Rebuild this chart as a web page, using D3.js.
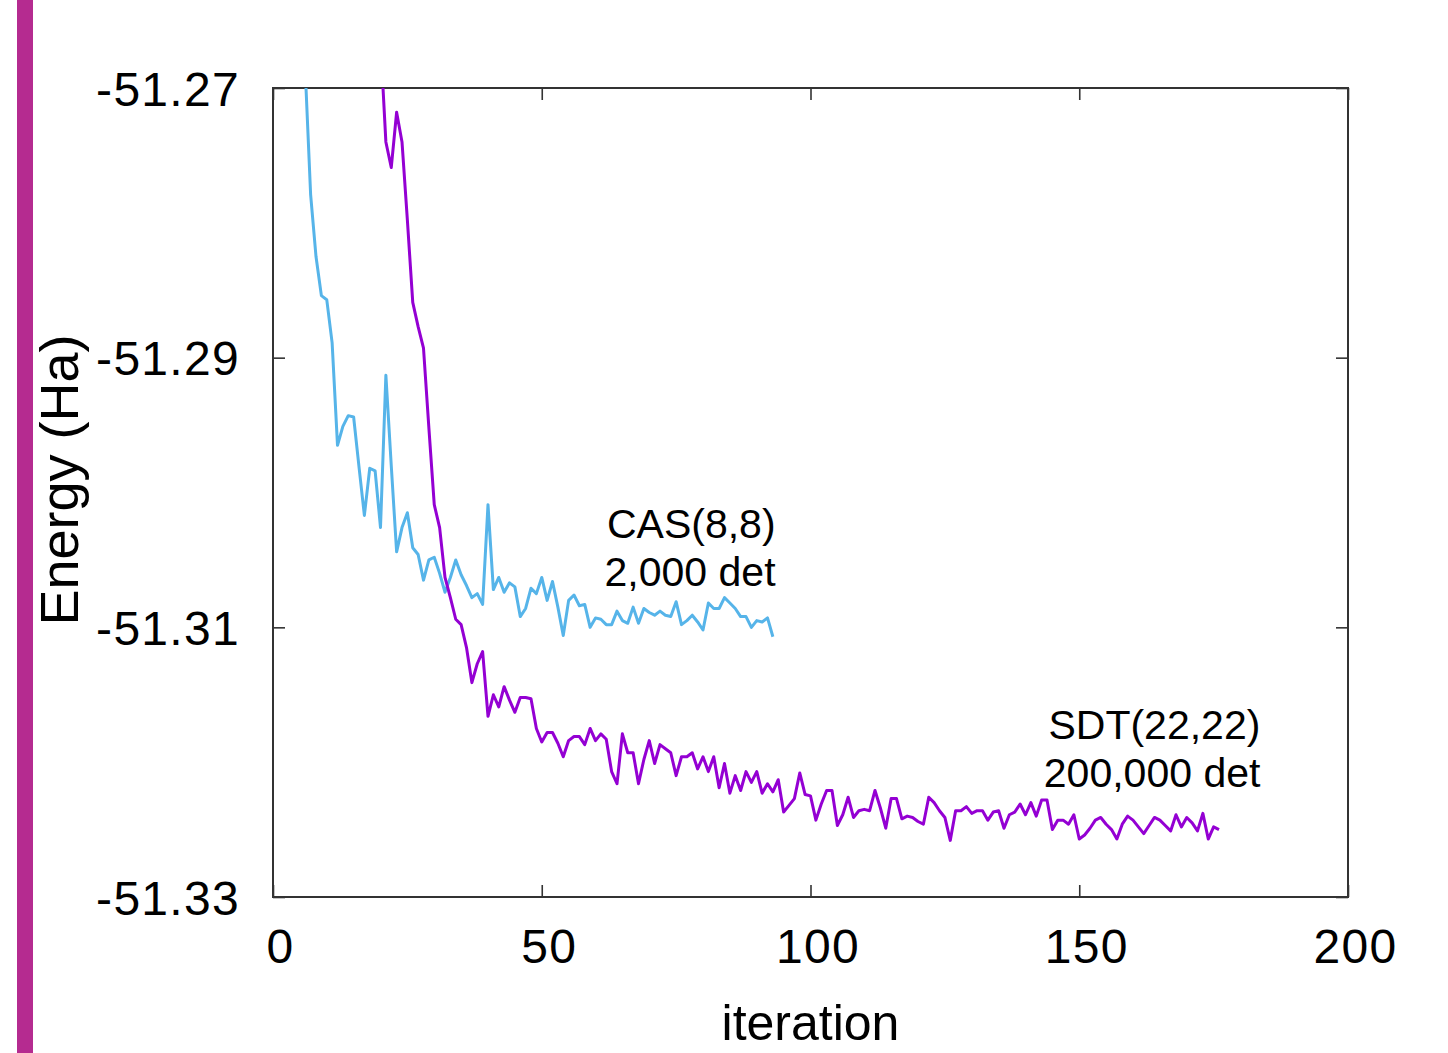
<!DOCTYPE html>
<html>
<head>
<meta charset="utf-8">
<script src="https://cdn.jsdelivr.net/npm/d3@7"></script>
<style>
  html, body { margin: 0; padding: 0; background: #fff; }
  svg { display: block; }
  text { font-family: "Liberation Sans", Arial, Helvetica, sans-serif; fill: #000; }
</style>
</head>
<body>
<svg id="chart" width="1448" height="1053"></svg>
<script>
// Energy convergence of two CI expansions (iteration vs. energy in Hartree)
const xTicks = [0, 50, 100, 150, 200];
const xTickLabels = ["0", "50", "100", "150", "200"];
const yTicks = [-51.27, -51.29, -51.31, -51.33];
const yTickLabels = ["-51.27", "-51.29", "-51.31", "-51.33"];

// CAS(8,8), 2,000 determinants — starts at iteration 5
const casStart = 5;
const casEnergy = [
  -51.2620, -51.2687, -51.2779, -51.2825, -51.2854, -51.2857, -51.2889, -51.2965, -51.2951, -51.2943,
  -51.2944, -51.2981, -51.3017, -51.2982, -51.2984, -51.3026, -51.2913, -51.2980, -51.3044, -51.3026,
  -51.3015, -51.3041, -51.3046, -51.3065, -51.3050, -51.3048, -51.3060, -51.3074, -51.3063, -51.3050,
  -51.3061, -51.3069, -51.3078, -51.3075, -51.3083, -51.3009, -51.3072, -51.3063, -51.3074, -51.3067,
  -51.3070, -51.3092, -51.3086, -51.3071, -51.3075, -51.3063, -51.3080, -51.3066, -51.3085, -51.3106,
  -51.3080, -51.3076, -51.3084, -51.3083, -51.3100, -51.3093, -51.3094, -51.3098, -51.3098, -51.3088,
  -51.3095, -51.3097, -51.3085, -51.3097, -51.3086, -51.3089, -51.3091, -51.3088, -51.3091, -51.3092,
  -51.3081, -51.3098, -51.3095, -51.3091, -51.3096, -51.3102, -51.3082, -51.3086, -51.3086, -51.3078,
  -51.3082, -51.3086, -51.3092, -51.3092, -51.3100, -51.3095, -51.3096, -51.3093, -51.3107
];

// SDT(22,22), 200,000 determinants — starts at iteration 20
const sdtStart = 20;
const sdtEnergy = [
  -51.2665, -51.2740, -51.2759, -51.2718, -51.2740, -51.2798, -51.2859, -51.2877, -51.2893, -51.2952,
  -51.3009, -51.3026, -51.3063, -51.3078, -51.3094, -51.3098, -51.3115, -51.3141, -51.3127, -51.3118,
  -51.3166, -51.3150, -51.3159, -51.3144, -51.3154, -51.3163, -51.3152, -51.3152, -51.3153, -51.3175,
  -51.3185, -51.3178, -51.3178, -51.3186, -51.3196, -51.3184, -51.3181, -51.3181, -51.3187, -51.3175,
  -51.3184, -51.3179, -51.3183, -51.3207, -51.3216, -51.3179, -51.3193, -51.3193, -51.3216, -51.3198,
  -51.3184, -51.3201, -51.3187, -51.3190, -51.3193, -51.3210, -51.3196, -51.3196, -51.3193, -51.3205,
  -51.3196, -51.3207, -51.3196, -51.3219, -51.3201, -51.3223, -51.3210, -51.3221, -51.3207, -51.3215,
  -51.3207, -51.3223, -51.3216, -51.3222, -51.3213, -51.3237, -51.3232, -51.3227, -51.3208, -51.3224,
  -51.3225, -51.3243, -51.3231, -51.3221, -51.3221, -51.3247, -51.3239, -51.3226, -51.3241, -51.3236,
  -51.3235, -51.3236, -51.3221, -51.3234, -51.3249, -51.3227, -51.3227, -51.3242, -51.3240, -51.3241,
  -51.3244, -51.3246, -51.3226, -51.3230, -51.3236, -51.3241, -51.3258, -51.3236, -51.3236, -51.3233,
  -51.3238, -51.3236, -51.3236, -51.3243, -51.3237, -51.3236, -51.3249, -51.3239, -51.3237, -51.3231,
  -51.3239, -51.3230, -51.3240, -51.3228, -51.3228, -51.3250, -51.3243, -51.3243, -51.3246, -51.3239,
  -51.3257, -51.3254, -51.3249, -51.3243, -51.3241, -51.3246, -51.3250, -51.3257, -51.3246, -51.3240,
  -51.3243, -51.3248, -51.3253, -51.3247, -51.3241, -51.3243, -51.3247, -51.3251, -51.3239, -51.3248,
  -51.3241, -51.3245, -51.3251, -51.3238, -51.3257, -51.3248, -51.3250
];

const seriesNames = ["CAS(8,8)", "SDT(22,22)"];
const seriesDets = ["2,000 det", "200,000 det"];
// label anchor (right edge) in data coordinates: [iteration, energy of first line]
const labelAnchors = [[93.5, -51.3034], [183.7, -51.3183]];

const svg = d3.select("#chart");
const margin = { left: 273, top: 88, right: 1448 - 1348, bottom: 1053 - 897 };
const W = 1448, H = 1053;

const x = d3.scaleLinear().domain([0, 200]).range([margin.left, W - margin.right]);
const y = d3.scaleLinear().domain([-51.33, -51.27]).range([H - margin.bottom, margin.top]);

// left accent bar
svg.append("rect").attr("x", 17).attr("y", 0).attr("width", 16).attr("height", H)
  .attr("fill", "#b52b90");

// clip region for the curves
svg.append("defs").append("clipPath").attr("id", "plotClip")
  .append("rect")
  .attr("x", x(0)).attr("y", y(-51.27))
  .attr("width", x(200) - x(0)).attr("height", y(-51.33) - y(-51.27));

const tickLen = 12;
const axisColor = "#333";

function styleAxis(g) {
  g.select(".domain").remove();
  g.selectAll(".tick line").attr("stroke", axisColor).attr("stroke-width", 1.6);
}

// left axis with labels
svg.append("g").attr("transform", `translate(${x(0)},0)`)
  .call(d3.axisLeft(y).tickValues(yTicks).tickSize(-tickLen).tickSizeOuter(0).tickPadding(33)
    .tickFormat((d, i) => yTickLabels[i]))
  .call(styleAxis)
  .call(g => g.selectAll(".tick text")
    .attr("font-size", 48).attr("fill", "#000").attr("letter-spacing", 1.3)
    .attr("font-family", "Liberation Sans, Arial, sans-serif").attr("dy", "0.36em"));

// right axis (ticks only)
svg.append("g").attr("transform", `translate(${x(200)},0)`)
  .call(d3.axisRight(y).tickValues(yTicks).tickSize(-tickLen).tickSizeOuter(0).tickFormat(""))
  .call(styleAxis);

// bottom axis with labels
svg.append("g").attr("transform", `translate(0,${y(-51.33)})`)
  .call(d3.axisBottom(x).tickValues(xTicks).tickSize(-tickLen).tickSizeOuter(0).tickPadding(32)
    .tickFormat((d, i) => xTickLabels[i]))
  .call(styleAxis)
  .call(g => g.selectAll(".tick text")
    .attr("font-size", 48).attr("fill", "#000").attr("letter-spacing", 1.3)
    .attr("font-family", "Liberation Sans, Arial, sans-serif").attr("dx", 7));

// top axis (ticks only)
svg.append("g").attr("transform", `translate(0,${y(-51.27)})`)
  .call(d3.axisTop(x).tickValues(xTicks).tickSize(-tickLen).tickSizeOuter(0).tickFormat(""))
  .call(styleAxis);

// frame
svg.append("rect")
  .attr("x", x(0)).attr("y", y(-51.27))
  .attr("width", x(200) - x(0)).attr("height", y(-51.33) - y(-51.27))
  .attr("fill", "none").attr("stroke", axisColor).attr("stroke-width", 2);

// curves
const line = d3.line().x(d => x(d[0])).y(d => y(d[1]));
const casData = casEnergy.map((e, i) => [casStart + i, e]);
const sdtData = sdtEnergy.map((e, i) => [sdtStart + i, e]);

const curves = svg.append("g").attr("clip-path", "url(#plotClip)");
curves.append("path").datum(casData)
  .attr("d", line).attr("fill", "none").attr("stroke", "#56b4e9")
  .attr("stroke-width", 3).attr("stroke-linejoin", "round");
curves.append("path").datum(sdtData)
  .attr("d", line).attr("fill", "none").attr("stroke", "#9400d3")
  .attr("stroke-width", 3).attr("stroke-linejoin", "round");

// series labels
seriesNames.forEach((name, i) => {
  const [ax, ay] = labelAnchors[i];
  const t = svg.append("text")
    .attr("x", x(ax)).attr("y", y(ay))
    .attr("text-anchor", "end").attr("font-size", 41);
  t.append("tspan").attr("x", x(ax)).text(name);
  t.append("tspan").attr("x", x(ax)).attr("dy", 48).text(seriesDets[i]);
});

// axis titles
svg.append("text")
  .attr("x", (x(0) + x(200)) / 2).attr("y", 1040)
  .attr("text-anchor", "middle").attr("font-size", 50)
  .text("iteration");

svg.append("text")
  .attr("transform", `translate(78,${480}) rotate(-90)`)
  .attr("text-anchor", "middle").attr("font-size", 54)
  .text("Energy (Ha)");
</script>
</body>
</html>
